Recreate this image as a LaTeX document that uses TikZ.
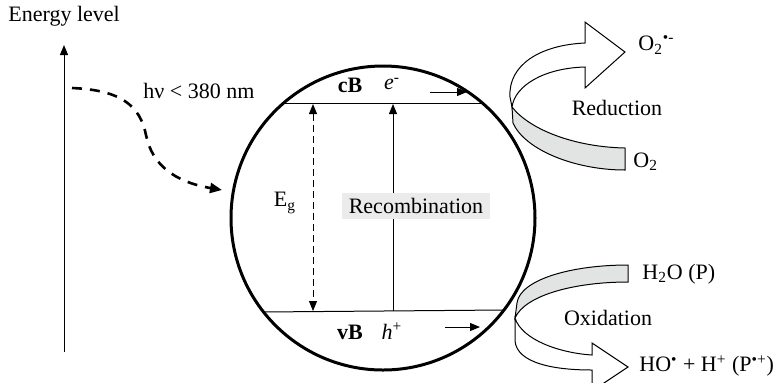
\documentclass[tikz,border=0pt]{standalone}
\usepackage{fontspec}
\setmainfont{Liberation Serif}
\usetikzlibrary{arrows.meta}
\definecolor{bandgray}{HTML}{E2E4E4}
\definecolor{boxgray}{HTML}{EBEBEB}
\begin{document}
\begin{tikzpicture}[x=0.5pt,y=-0.5pt,
  lbl/.style={inner sep=0pt, font=\fontsize{11}{13}\selectfont},
  tip/.style={-{Triangle[length=5pt,width=4pt]}},
  thinline/.style={line width=0.5pt},
  ribbon/.style={line width=0.5pt, line join=miter},
 ]
\useasboundingbox (0,0) rectangle (783,382);
% energy axis
\node[lbl, anchor=west] (elevel) at (8,16) {Energy level};
\coordinate (ebot) at (64,352);
\coordinate (etop) at (64,45);
\draw[thinline, tip] (ebot) -- (etop);
% light
\node[lbl, anchor=west] (hv) at (143,91) {hν < 380 nm};
\coordinate (ls) at (72,88);
\coordinate (le) at (222,190);
\draw[line width=1.3pt, dash pattern=on 5pt off 4pt, -{Triangle[length=6pt,width=5pt]}]
  (ls) .. controls (120,90) and (140,105) .. (146,135) .. controls (152,165) and (175,182) .. (le);
% particle
\node[draw, circle, line width=1.5pt, minimum size=152pt, inner sep=0pt] (part) at (383,218) {};
\coordinate (cbL) at (282,103);
\coordinate (cbR) at (484,103);
\coordinate (vbL) at (262,312);
\coordinate (vbR) at (504,310);
\draw[thinline] (cbL) -- (cbR);
\draw[thinline] (vbL) -- (vbR);
\node[lbl] (cb) at (350,85) {\textbf{cB}};
\node[lbl] (el) at (392,84) {\textit{e}\textsuperscript{-}};
\coordinate (ea1) at (430,92);
\coordinate (ea2) at (467,92);
\draw[thinline, tip] (ea1) -- (ea2);
\node[lbl] (vb) at (350,332) {\textbf{vB}};
\node[lbl] (ho) at (392,331) {\textit{h}\textsuperscript{+}};
\coordinate (ha1) at (445,327);
\coordinate (ha2) at (480,327);
\draw[thinline, tip] (ha1) -- (ha2);
% band gap
\coordinate (eg1) at (313,104);
\coordinate (eg2) at (313,311);
\draw[thinline, dash pattern=on 3.5pt off 2pt, {Triangle[length=5pt,width=4pt]}-{Triangle[length=5pt,width=4pt]}] (eg1) -- (eg2);
\node[lbl] (eg) at (285,203) {E\textsubscript{g}};
% recombination
\coordinate (r1) at (393,311);
\coordinate (r2) at (393,104);
\draw[thinline, tip] (r1) -- (r2);
\node[lbl, fill=boxgray, minimum width=74pt, minimum height=13pt] (rec) at (416,206) {Recombination};
% reduction ribbon
\draw[ribbon, fill=bandgray] (512,107) .. controls (530,130) and (575,147) .. (625,148) -- (625,170)
  .. controls (575,170) and (525,150) .. (513,123) -- cycle;
\draw[ribbon, fill=white] (512,107) .. controls (515,85) and (545,68) .. (585,67) -- (585,88) -- (625,52)
  -- (585,22) -- (585,43) .. controls (540,45) and (508,65) .. (510,97) -- cycle;
% oxidation ribbon
\draw[ribbon, fill=bandgray] (628,265) -- (628,282) .. controls (575,282) and (525,295) .. (515,318)
  -- (517,303) .. controls (520,280) and (570,265) .. (628,265) -- cycle;
\draw[ribbon, fill=white] (515,318) .. controls (522,340) and (560,353) .. (592,355) -- (592,343)
  -- (628,367) -- (592,391) -- (592,370) .. controls (545,370) and (513,360) .. (515,337) -- cycle;
% labels
\node[lbl, anchor=west] (o2r) at (638,45) {O\textsubscript{2}\textsuperscript{•-}};
\node[lbl] (red) at (617,108) {Reduction};
\node[lbl, anchor=west] (o2) at (633,162) {O\textsubscript{2}};
\node[lbl, anchor=west] (h2o) at (642,274) {H\textsubscript{2}O (P)};
\node[lbl] (ox) at (608,318) {Oxidation};
\node[lbl, anchor=west] (prod) at (639,366) {HO\textsuperscript{•} + H\textsuperscript{+} (P\textsuperscript{•+})};
\end{tikzpicture}
\end{document}
